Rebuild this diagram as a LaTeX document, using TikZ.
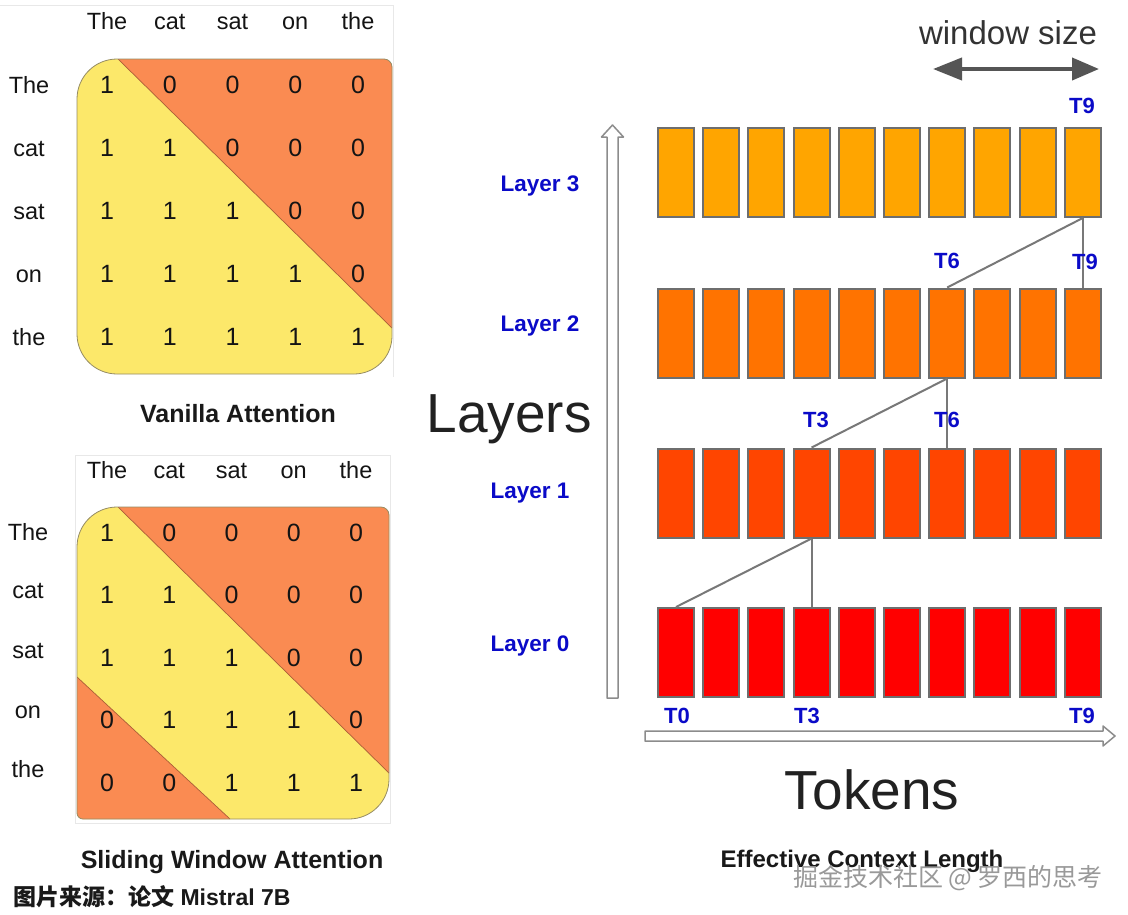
\documentclass[tikz,border=0pt]{standalone}
\usepackage{fontspec}
\setmainfont{Liberation Sans}
\newfontfamily\cjk{Noto Sans CJK SC}
\usetikzlibrary{arrows.meta}
\definecolor{yel}{RGB}{252,232,106}
\definecolor{ora}{RGB}{250,139,82}
\definecolor{edgec}{RGB}{150,140,100}
\definecolor{diagc}{RGB}{170,95,55}
\definecolor{framec}{RGB}{232,232,232}
\definecolor{lblue}{RGB}{10,10,200}
\definecolor{barb}{RGB}{110,110,110}
\definecolor{connc}{RGB}{120,120,120}
\definecolor{cL3}{RGB}{255,165,0}
\definecolor{cL2}{RGB}{255,115,0}
\definecolor{cL1}{RGB}{255,69,0}
\definecolor{cL0}{RGB}{255,0,0}
\definecolor{winc}{RGB}{85,85,85}
\newcommand\myfs[1]{\fontsize{#1}{#1}\selectfont}
\tikzset{
  hdr/.style={font=\myfs{23.5}, anchor=base, inner sep=0pt, text=black!92},
  num/.style={font=\myfs{25}, anchor=base, inner sep=0pt, text=black!92},
  captxt/.style={font=\bfseries\myfs{25}, anchor=base, inner sep=0pt, text=black!90},
  laytxt/.style={font=\bfseries\myfs{22.5}, text=lblue, inner sep=0pt},
  tktxt/.style={font=\bfseries\myfs{22}, text=lblue, inner sep=0pt},
  bar/.style={draw=barb, line width=2pt, minimum width=36pt, minimum height=89pt, inner sep=0pt},
  conn/.style={draw=connc, line width=2pt},
  bigtxt/.style={font=\myfs{55}, text=black!87, inner sep=0pt, anchor=base},
  hollow/.style={draw=black!45, line width=1.5pt, fill=white, line join=round}
}
\begin{document}
\begin{tikzpicture}[x=1pt,y=-1pt]
\useasboundingbox (0,0) rectangle (1128,914);
\fill[white] (0,0) rectangle (1128,914);

% ---------- faint frames ----------
\draw[framec, line width=1pt] (0,5) -- (393,5) -- (393,377);
\draw[framec, line width=1pt] (75,455) rectangle (390,823);

% ---------- Vanilla attention matrix ----------
\def\vshape{(77,99) arc[start angle=180,end angle=270,radius=40] -- (384,59)
  arc[start angle=270,end angle=360,radius=8] -- (392,336)
  arc[start angle=0,end angle=90,radius=38] -- (117,374)
  arc[start angle=90,end angle=180,radius=40] -- cycle}
\fill[yel] \vshape;
\begin{scope}
  \clip \vshape;
  \fill[ora] (118,59) -- (392,328) -- (400,328) -- (400,50) -- (118,50) -- cycle;
  \draw[diagc, line width=0.7pt] (118,59) -- (392,328);
\end{scope}
\draw[edgec, line width=0.8pt] \vshape;

\foreach \w [count=\c] in {The,cat,sat,on,the}
  \node[hdr] (vh-\c) at ({107+62.75*(\c-1)},29) {\w};
\foreach \w [count=\r] in {The,cat,sat,on,the}
  \node[hdr] (vr-\r) at (29,{93+63*(\r-1)}) {\w};
\foreach \r/\vals in {1/{1,0,0,0,0},2/{1,1,0,0,0},3/{1,1,1,0,0},4/{1,1,1,1,0},5/{1,1,1,1,1}}
  \foreach \v [count=\c] in \vals
    \node[num] (v-\r-\c) at ({107+62.75*(\c-1)},{93+63*(\r-1)}) {\v};
\node[captxt] (vcap) at (238,422) {Vanilla Attention};

% ---------- Sliding window matrix ----------
\def\sshape{(77,547) arc[start angle=180,end angle=270,radius=40] -- (381,507)
  arc[start angle=270,end angle=360,radius=8] -- (389,779)
  arc[start angle=0,end angle=90,radius=40] -- (83,819)
  arc[start angle=90,end angle=180,radius=6] -- cycle}
\fill[yel] \sshape;
\begin{scope}
  \clip \sshape;
  \fill[ora] (118,507) -- (389,773) -- (400,773) -- (400,500) -- (118,500) -- cycle;
  \fill[ora] (60,677) -- (77,677) -- (230,819) -- (230,830) -- (60,830) -- cycle;
  \draw[diagc, line width=0.7pt] (118,507) -- (389,773);
  \draw[diagc, line width=0.7pt] (77,677) -- (230,819);
\end{scope}
\draw[edgec, line width=0.8pt] \sshape;

\foreach \w [count=\c] in {The,cat,sat,on,the}
  \node[hdr] (sh-\c) at ({107+62.25*(\c-1)},478) {\w};
\foreach \w/\y [count=\r] in {The/540,cat/598,sat/658,on/718,the/777}
  \node[hdr] (sr-\r) at (28,\y) {\w};
\foreach \r/\vals in {1/{1,0,0,0,0},2/{1,1,0,0,0},3/{1,1,1,0,0},4/{0,1,1,1,0},5/{0,0,1,1,1}}
  \foreach \v [count=\c] in \vals
    \node[num] (s-\r-\c) at ({107+62.25*(\c-1)},{541+62.5*(\r-1)}) {\v};
\node[captxt] (scap) at (232,868) {Sliding Window Attention};
\node[font=\bfseries\myfs{23}, anchor=base west, inner sep=0pt, text=black!90] (src) at (13,905)
  {{\cjk\bfseries 图片来源：论文} Mistral 7B};

% ---------- Effective context length ----------
\node[font=\myfs{33}, text=black!80, inner sep=0pt, anchor=base] (ws) at (1008,44) {window size};
\coordinate (wl) at (933,69);
\coordinate (wr) at (1099,69);
\draw[winc, line width=4pt, {Triangle[length=29pt,width=22pt]}-{Triangle[length=27pt,width=22pt]}] (wl) -- (wr);

% axes (hollow arrows)
\draw[hollow] (607,698) -- (607,137) -- (601.5,137) -- (612.5,125) -- (623.5,137) -- (618,137) -- (618,698) -- cycle;
\draw[hollow] (645,731) -- (1103,731) -- (1103,726) -- (1115,736) -- (1103,746) -- (1103,741) -- (645,741) -- cycle;

% bars
\foreach \L/\y in {3/172.5,2/333,1/493,0/652.5}
  \foreach \i in {0,...,9}
    \node[bar, fill=cL\L] (L\L-\i) at ({676+45.2*\i},\y) {};

% connectors
\draw[conn] (L3-9.south) -- (L2-6.north);
\draw[conn] (L3-9.south) -- (L2-9.north);
\draw[conn] (L2-6.south) -- (L1-3.north);
\draw[conn] (L2-6.south) -- (L1-6.north);
\draw[conn] (L1-3.south) -- (L0-0.north);
\draw[conn] (L1-3.south) -- (L0-3.north);

% token labels
\node[tktxt] (t9a) at (1082,106) {T9};
\node[tktxt] (t6b) at (947,261) {T6};
\node[tktxt] (t9b) at (1085,262) {T9};
\node[tktxt] (t3c) at (816,420) {T3};
\node[tktxt] (t6c) at (947,420) {T6};
\node[tktxt] (t0d) at (677,716) {T0};
\node[tktxt] (t3d) at (807,716) {T3};
\node[tktxt] (t9d) at (1082,716) {T9};

% layer labels
\node[laytxt] (lab3) at (540,186) {Layer 3};
\node[laytxt] (lab2) at (540,326) {Layer 2};
\node[laytxt] (lab1) at (530,493) {Layer 1};
\node[laytxt] (lab0) at (530,646) {Layer 0};

\node[bigtxt] (layers) at (509,432) {Layers};
\node[bigtxt] (tokens) at (872,809) {Tokens};

\node[font=\bfseries\myfs{24}, anchor=base, inner sep=0pt, text=black!90] (ecl) at (862,867) {Effective Context Length};
\node[font=\cjk\myfs{25}, anchor=base, inner sep=0pt, text=black!40] (wm) at (948,886) {掘金技术社区 @ 罗西的思考};
\end{tikzpicture}
\end{document}
